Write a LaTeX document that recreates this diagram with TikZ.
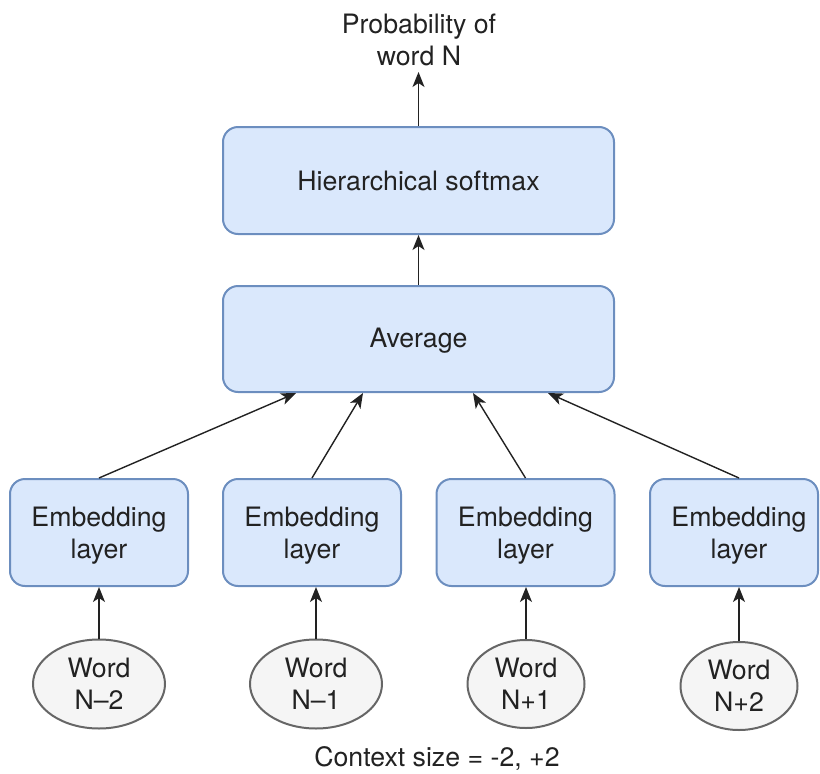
\documentclass[tikz,border=0pt]{standalone}
\usepackage{fontspec}
\setmainfont{TeX Gyre Heros}
\usetikzlibrary{arrows.meta,shapes.geometric}

\definecolor{boxfill}{HTML}{DAE8FC}
\definecolor{boxline}{HTML}{6C8EBF}
\definecolor{wordfill}{HTML}{F5F5F5}
\definecolor{wordline}{HTML}{666666}
\definecolor{ink}{HTML}{222222}

% lower a line of text inside its box without changing the box size
\newcommand{\dropline}[2][3pt]{\raisebox{-#1}[\height][\depth]{#2}}
% move a line of text sideways without changing its width
\newcommand{\nudgeline}[2]{\hspace*{#1}#2\hspace*{-#1}}

\tikzset{
  layerbox/.style={draw=boxline, fill=boxfill, line width=2pt, rounded corners=15pt,
    inner sep=0pt, align=center, text=ink},
  wordnode/.style={ellipse, draw=wordline, fill=wordfill, line width=2pt,
    inner sep=0pt, align=center, text=ink},
  label/.style={align=center, text=ink, inner sep=0pt},
  flow/.style={draw=ink, line width=1.4pt,
    -{Stealth[length=15pt,width=12pt,inset=4pt]}},
}

\begin{document}
\begin{tikzpicture}[x=1pt,y=-1pt,
  every node/.append style={font=\fontsize{26.7}{32}\selectfont}]
\useasboundingbox (0,0) rectangle (820,774);

% top output label
\node[label] (prob) at (419,40) {Probability of\\word N};

% upper layers
\node[layerbox, minimum width=391pt, minimum height=107pt] (hs) at (418.5,180.5) {Hierarchical softmax};
\node[layerbox, minimum width=391pt, minimum height=106pt] (avg) at (418.5,339) {\dropline[2pt]{Average}};

% embedding layers
\node[layerbox, minimum width=178pt, minimum height=107pt] (e1) at (99,532.5) {\dropline{Embedding}\\\dropline{layer}};
\node[layerbox, minimum width=178pt, minimum height=107pt] (e2) at (312,532.5) {\dropline{Embedding}\\\dropline{layer}};
\node[layerbox, minimum width=178pt, minimum height=107pt] (e3) at (525.5,532.5) {\dropline{Embedding}\\\dropline{layer}};
\node[layerbox, minimum width=168pt, minimum height=107pt] (e4) at (734,532.5)
  {\dropline{\nudgeline{5pt}{Embedding}}\\\dropline{\nudgeline{5pt}{layer}}};

% context words
\node[wordnode, minimum width=132pt, minimum height=89pt] (w1) at (99,684) {Word\\N--2};
\node[wordnode, minimum width=132pt, minimum height=89pt] (w2) at (316,684) {Word\\N--1};
\node[wordnode, minimum width=117pt, minimum height=88pt] (w3) at (526,684) {Word\\N+1};
\node[wordnode, minimum width=117pt, minimum height=88pt] (w4) at (739,686) {Word\\N+2};

\node[label] (ctx) at (437,758) {Context size = -2, +2};

% points where the context arrows meet the average layer
\coordinate (a1) at (296,393);
\coordinate (a2) at (363,393);
\coordinate (a3) at (473,393);
\coordinate (a4) at (548,393);

% connectors
\draw[flow] (w1.north) -- (w1.north |- e1.south);
\draw[flow] (w2.north) -- (w2.north |- e2.south);
\draw[flow] (w3.north) -- (w3.north |- e3.south);
\draw[flow] (w4.north) -- (w4.north |- e4.south);

\draw[flow] (e1.north) -- (a1);
\draw[flow] (e2.north) -- (a2);
\draw[flow] (e3.north) -- (a3);
\draw[flow] (w4.north |- e4.north) -- (a4);

\draw[flow] (avg.north) -- (hs.south);
\draw[flow] (hs.north) -- (hs.north |- 0,72);
\end{tikzpicture}
\end{document}
